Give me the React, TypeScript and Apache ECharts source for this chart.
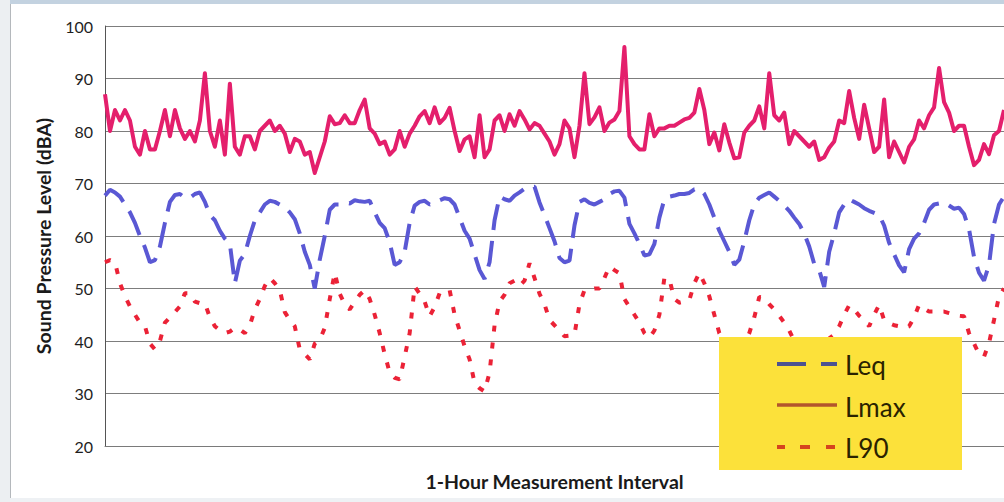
import React, { useEffect, useRef } from "react";
import * as echarts from "echarts";

// Hourly readings (dBA)
const lmax: number[] = [
  87, 80, 84, 82, 84, 82, 77, 75.5, 80, 76.5,
  76.5, 80, 84, 79, 84, 80.5, 78.5, 80, 78, 82,
  91, 80, 77, 82, 75.5, 89, 77, 75.5, 79, 79,
  76.5, 80, 81, 82, 80, 81, 79.5, 76, 78.5, 78,
  75.5, 76, 72, 75, 78, 82.8, 81.3, 81.5, 83, 81.5,
  81.5, 84, 86, 80.5, 79.5, 77.5, 78, 75.5, 76.5, 80,
  77, 79.5, 81, 82.8, 83.8, 81.5, 84.5, 81.5, 82.5, 84.4,
  80, 76.2, 78.4, 79, 75, 83, 75, 76.5, 82, 83,
  80, 83.2, 81, 83.8, 82.2, 80.3, 81.5, 81, 79.5, 78,
  75.5, 77.5, 82, 80.5, 75, 81, 91, 81.3, 82.6, 84.5,
  80, 81.6, 82.2, 83.8, 96, 79, 77.5, 76.5, 76.5, 83.2,
  79, 80.5, 80.5, 81, 81, 81.6, 82.2, 82.5, 83.5, 88,
  84, 77.5, 79.7, 76.3, 81.3, 77.8, 74.8, 75, 79.7, 81,
  82, 84.7, 80.5, 91, 83, 82, 83.5, 77.5, 80, 79,
  78, 77, 78, 74.5, 75, 76.8, 78, 82, 81.5, 87.6,
  82.5, 78.5, 85, 80.5, 76, 77, 86, 75, 78, 76,
  74, 77, 78.4, 82, 80.5, 83, 84.5, 92, 85.5, 83.5,
  80, 81, 81, 77, 73.5, 74.5, 77.5, 75.6, 79.2, 80,
  84,
];

const leq: number[] = [
  67.7, 68.8, 68.3, 67.5, 66, 64.5, 62.5, 60, 57.8, 55,
  55.4, 58, 62.5, 66.5, 67.8, 68, 67.3, 67.3, 68, 68.3,
  66.5, 64, 63, 61, 59.5, 58.5, 51, 55.3, 56.6, 60,
  63, 64.5, 66, 66.7, 66.5, 66, 65.5, 64.5, 63.2, 60.5,
  57, 54.5, 50, 55.5, 60, 65, 66, 66, 66.4, 66.2,
  66.8, 66.6, 66.5, 66.7, 64.5, 62.5, 61.5, 58.8, 54.5, 55,
  57, 62.5, 65.8, 66.5, 66.7, 66, 66.3, 66.8, 67.2, 67,
  66, 63.5, 61, 59.5, 56.5, 53.5, 51.8, 55, 63, 67.5,
  67, 66.7, 67.7, 68.3, 69, 69.4, 69.4, 66.4, 64, 61.5,
  59, 55.8, 55, 55.3, 62, 66.5, 67, 66.3, 66, 66.5,
  67, 68, 68.5, 68.6, 67.3, 62.3, 60.5, 58.5, 56.3, 56.5,
  58.5, 63.5, 67, 67.5, 67.7, 68, 68, 68.2, 68.9, 69,
  68, 66, 63.5, 61, 59, 57, 54.5, 55.5, 59, 63,
  66, 67.3, 67.8, 68.3, 67.5, 66.7, 65.8, 64.8, 63.5, 62.3,
  60.5, 58, 54.7, 53.5, 50.3, 57, 60.5, 64.5, 66, 67,
  66.5, 66, 65.3, 64.8, 64.4, 64, 62, 58.7, 56.5, 54.4,
  53.1, 57.5, 59.5, 60.5, 62.5, 65, 66, 66.2, 66.4, 65.8,
  65.2, 65.4, 64.2, 61.3, 56, 53, 51.5, 54.5, 62.3, 66,
  67.5,
];

const l90: number[] = [
  55, 55.4, 55, 51, 48.5, 46.6, 45, 43.5, 42.8, 39.5,
  38.4, 40, 43.5, 44.5, 45.5, 46.6, 49.1, 49.1, 47.5, 47.2,
  47.2, 44.5, 42.8, 42, 41.5, 41.8, 42.5, 42.2, 41.5, 43,
  46, 48, 50.5, 52, 51, 49.7, 45.5, 44, 42.8, 38.4,
  37.5, 36.5, 39.5, 40.2, 42.5, 48, 53, 49, 47, 46,
  47.5, 48.8, 49.7, 48, 45, 41.5, 37.5, 34, 33, 32.7,
  37, 41.5, 50.4, 49, 47.5, 44.7, 46.5, 49.1, 49.5, 49.7,
  45, 42, 39, 36.5, 32, 31, 30.4, 34, 43, 47.5,
  48.8, 51, 51.5, 50.5, 51.5, 54.8, 52, 49, 47, 44,
  43, 42, 40.9, 41, 41.2, 47, 49.7, 49.8, 50, 50,
  52, 54.2, 53.5, 52.9, 48, 46.5, 45, 43.5, 41.5, 40.6,
  42, 45, 52, 51.8, 48, 47.3, 47.5, 47.8, 51, 53,
  51, 48.5, 45, 41.5, 40, 39, 38.5, 38.5, 39.5, 41.5,
  44.5, 48.4, 48.2, 47, 46, 44.8, 43.5, 42, 40, 39,
  38.5, 38.5, 38.5, 39, 39.5, 40.5, 41.2, 42.8, 45, 46.8,
  46, 44.8, 44, 42.8, 45, 46.9, 44, 43.4, 43, 42.8,
  42.5, 42.8, 44.5, 46.9, 46.2, 45.6, 45.6, 45.6, 45.6, 45.3,
  45, 44.8, 44.7, 41.5, 39.5, 37.5, 37, 39.6, 44, 48.5,
  50,
];

const hours: string[] = lmax.map((_, i) => String(i + 1));

const yTicks = { min: 20, max: 100, interval: 10 };
const legendNames = ["Leq", "Lmax", "L90"];

const FONT = "Lato, 'Open Sans', sans-serif";

export default function App() {
  const ref = useRef<HTMLDivElement>(null);

  useEffect(() => {
    if (!ref.current) return;
    const chart = echarts.init(ref.current, null, { renderer: "svg" });
    const Z = 50;
    chart.setOption({
      animation: false,
      backgroundColor: "#ffffff",
      textStyle: { fontFamily: FONT },
      grid: { left: 105, top: 26, right: 0, bottom: 56, containLabel: false },
      xAxis: {
        type: "category",
        data: hours,
        boundaryGap: false,
        name: "1-Hour Measurement Interval",
        nameLocation: "middle",
        nameGap: 25,
        nameTextStyle: { fontSize: 19.5, fontWeight: "bold", color: "#1a1a1a", fontFamily: FONT },
        axisLine: { show: true, lineStyle: { color: "#7a7a7a", width: 1 } },
        axisTick: { show: false },
        axisLabel: { show: false },
        splitLine: { show: false },
      },
      yAxis: {
        type: "value",
        min: yTicks.min,
        max: yTicks.max,
        interval: yTicks.interval,
        name: "Sound Pressure Level (dBA)",
        nameLocation: "middle",
        nameGap: 52,
        nameRotate: 90,
        nameTextStyle: { fontSize: 19.5, fontWeight: "bold", color: "#1a1a1a", fontFamily: FONT },
        axisLine: { show: true, lineStyle: { color: "#555555", width: 1 } },
        axisTick: { show: false },
        axisLabel: { fontSize: 16, color: "#1e1e1e", margin: 12, fontFamily: FONT },
        splitLine: { show: true, lineStyle: { color: "#7d7d7d", width: 1 } },
      },
      series: [
        {
          name: legendNames[1],
          type: "line",
          data: lmax,
          symbol: "none",
          lineStyle: { color: "#E41F6C", width: 4, join: "round" },
          z: 3,
        },
        {
          name: legendNames[0],
          type: "line",
          data: leq,
          symbol: "none",
          lineStyle: { color: "#5A58D4", width: 4, type: [26, 11], cap: "butt" },
          z: 2,
        },
        {
          name: legendNames[2],
          type: "line",
          data: l90,
          symbol: "none",
          lineStyle: { color: "#EB2236", width: 4, type: [6, 11], cap: "butt" },
          z: 2,
        },
      ],
      graphic: [
        { type: "rect", z: Z, shape: { x: 0, y: 0, width: 1004, height: 4 }, style: { fill: "#C3D2E0" } },
        { type: "rect", z: Z, shape: { x: 0, y: 0, width: 10, height: 502 }, style: { fill: "#ECEFF2" } },
        { type: "line", z: Z, shape: { x1: 10.5, y1: 4, x2: 10.5, y2: 502 }, style: { stroke: "#B4B8BC", lineWidth: 1 } },
        { type: "rect", z: Z, shape: { x: 10, y: 498, width: 994, height: 4 }, style: { fill: "#EEF1F4" } },
        { type: "rect", z: Z, shape: { x: 719, y: 337, width: 243, height: 133 }, style: { fill: "#FCE13A" } },
        { type: "line", z: Z + 1, shape: { x1: 777, y1: 364, x2: 806, y2: 364 }, style: { stroke: "#4C5290", lineWidth: 4 } },
        { type: "line", z: Z + 1, shape: { x1: 821, y1: 364, x2: 837, y2: 364 }, style: { stroke: "#4C5290", lineWidth: 4 } },
        { type: "line", z: Z + 1, shape: { x1: 777, y1: 405, x2: 837, y2: 405 }, style: { stroke: "#B3552C", lineWidth: 3.5 } },
        { type: "line", z: Z + 1, shape: { x1: 777, y1: 447, x2: 785, y2: 447 }, style: { stroke: "#D5441E", lineWidth: 4 } },
        { type: "line", z: Z + 1, shape: { x1: 800, y1: 447, x2: 810, y2: 447 }, style: { stroke: "#D5441E", lineWidth: 4 } },
        { type: "line", z: Z + 1, shape: { x1: 826, y1: 447, x2: 835, y2: 447 }, style: { stroke: "#D5441E", lineWidth: 4 } },
        {
          type: "text", z: Z + 1, x: 845, y: 365,
          style: { text: legendNames[0], fontSize: 26, fontFamily: FONT, fill: "#2A2200", textVerticalAlign: "middle", verticalAlign: "middle" },
        },
        {
          type: "text", z: Z + 1, x: 845, y: 407,
          style: { text: legendNames[1], fontSize: 26, fontFamily: FONT, fill: "#2A2200", textVerticalAlign: "middle", verticalAlign: "middle" },
        },
        {
          type: "text", z: Z + 1, x: 845, y: 448,
          style: { text: legendNames[2], fontSize: 26, fontFamily: FONT, fill: "#2A2200", textVerticalAlign: "middle", verticalAlign: "middle" },
        },
      ],
    });
    return () => chart.dispose();
  }, []);

  return (
    <div
      ref={ref}
      style={{ position: "absolute", left: 0, top: 0, width: 1004, height: 502 }}
    />
  );
}
